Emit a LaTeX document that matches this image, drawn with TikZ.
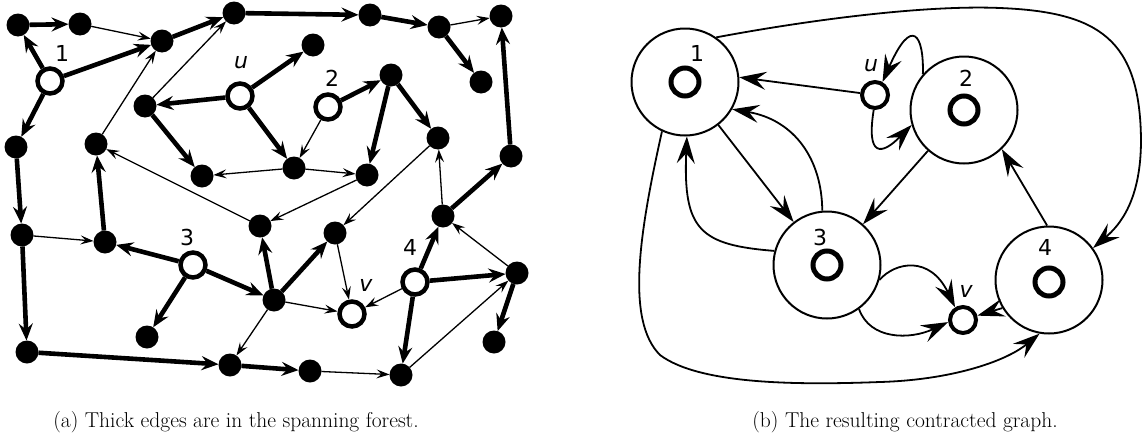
\documentclass[tikz,border=0pt]{standalone}
\usepackage{fontspec}
\newfontfamily\labfont{DejaVu Sans}
\usetikzlibrary{arrows.meta}
\begin{document}
\begin{tikzpicture}[x=1pt,y=-1pt,
  bn/.style={circle,fill=black,minimum size=23pt,inner sep=0pt,outer sep=0pt},
  wn/.style={circle,draw=black,fill=white,line width=4.5pt,minimum size=25pt,inner sep=0pt},
  thk/.style={line width=4.6pt,-{Stealth[length=17pt,width=14pt,inset=6pt]}},
  thn/.style={line width=1.3pt,-{Stealth[length=13pt,width=9pt,inset=5pt]}},
  big/.style={circle,draw=black,line width=2pt,minimum size=107pt,inner sep=0pt},
  ring/.style={circle,draw=black,line width=5pt,minimum size=28pt,inner sep=0pt},
  sm/.style={circle,draw=black,fill=white,line width=4pt,minimum size=26pt,inner sep=0pt},
  rar/.style={line width=1.8pt,-{Stealth[length=27pt,width=18pt,inset=10pt]}},
  lab/.style={font=\labfont\fontsize{22}{26}\selectfont,inner sep=0pt},
  ilab/.style={font=\labfont\itshape\fontsize{22}{26}\selectfont,inner sep=0pt},
  captext/.style={font=\fontsize{21.5}{26}\selectfont,anchor=base,inner sep=0pt}]
\useasboundingbox (0,0) rectangle (1146,442);

% ---------- left graph: nodes ----------
\node[bn] (a1) at (18,25) {};
\node[bn] (a2) at (80,24) {};
\node[bn] (a3) at (162,41) {};
\node[bn] (a4) at (234,13) {};
\node[bn] (a5) at (370,15) {};
\node[bn] (a6) at (439,27) {};
\node[bn] (a7) at (501,16) {};
\node[bn] (a8) at (481,82) {};
\node[bn] (a9) at (313,45) {};
\node[bn] (a10) at (391,75) {};
\node[bn] (a11) at (145,106) {};
\node[bn] (a12) at (16,147) {};
\node[bn] (a13) at (96,144) {};
\node[bn] (a14) at (202,176) {};
\node[bn] (a15) at (294,168) {};
\node[bn] (a16) at (367,175) {};
\node[bn] (a17) at (438,138) {};
\node[bn] (a18) at (511,156) {};
\node[bn] (a19) at (22,235) {};
\node[bn] (a20) at (105,242) {};
\node[bn] (a21) at (260,226) {};
\node[bn] (a22) at (274,300) {};
\node[bn] (a23) at (147,337) {};
\node[bn] (a24) at (27,352) {};
\node[bn] (a25) at (230,365) {};
\node[bn] (a26) at (335,233) {};
\node[bn] (a27) at (443,216) {};
\node[bn] (a28) at (517,273) {};
\node[bn] (a29) at (494,342) {};
\node[bn] (a30) at (310,371) {};
\node[bn] (a31) at (401,375) {};
\node[wn] (w1) at (50,81) {};
\node[wn] (wu) at (240,96) {};
\node[wn] (w2) at (328,107) {};
\node[wn] (w3) at (193,265) {};
\node[wn] (wv) at (352,314) {};
\node[wn] (w4) at (415,282) {};
\node[lab] (l1) at (62,53) {1};
\node[ilab] (lu) at (241,63) {u};
\node[lab] (l2) at (332,78) {2};
\node[lab] (l3) at (187,237) {3};
\node[lab] (l4) at (410,247) {4};
\node[ilab] (lv) at (366,285) {v};

% thick (forest) edges
\foreach \s/\t in {w1/a1,a1/a2,w1/a3,a3/a4,a4/a5,a5/a6,a6/a8,w1/a12,a12/a19,a19/a24,
  a20/a13,wu/a11,wu/a9,wu/a15,a11/a14,w2/a10,a10/a16,a10/a17,a27/a18,a18/a7,
  w4/a27,w4/a28,w4/a31,a28/a29,a25/a30,a24/a25,a22/a26,a22/a21,w3/a22,w3/a20,w3/a23}
  \draw[thk] (\s) -- (\t);
% thin edges
\foreach \s/\t in {a2/a3,a6/a7,a19/a20,a13/a3,a11/a4,a15/a14,w2/a15,a15/a16,a21/a13,
  a16/a21,a17/a26,a27/a17,a28/a27,a31/a28,a30/a31,a22/a25,a22/wv,a26/wv,w4/wv}
  \draw[thn] (\s) -- (\t);

% ---------- right graph ----------
\node[big] (C1) at (685,82) {};
\node[big] (C2) at (964,110) {};
\node[big] (C3) at (827,265) {};
\node[big] (C4) at (1049,280) {};
\node[ring] (r1) at (685,82) {};
\node[ring] (r2) at (964,110) {};
\node[ring] (r3) at (827,265) {};
\node[ring] (r4) at (1049,282) {};
\node[sm] (u) at (875,95) {};
\node[sm] (v) at (963,320) {};
\node[lab] (m1) at (697,53) {1};
\node[lab] (m2) at (966,78) {2};
\node[lab] (m3) at (820,237) {3};
\node[lab] (m4) at (1045,247) {4};
\node[ilab] (mu) at (871,66) {u};
\node[ilab] (mv) at (966,291) {v};

\draw[rar] (u) -- (C1.5);
\draw[rar] (C2.139) .. controls (924,35) and (912,15) .. (u.60);
\draw[rar] (u.-95) .. controls (866,158) and (882,155) .. (C2.196);
\draw[rar] (C1) -- (C3);
\draw[rar] (C3.95) .. controls (822,160) and (795,120) .. (C1.-30);
\draw[rar] (C3.165) .. controls (700,245) and (683,230) .. (C1.-88);
\draw[rar] (C2) -- (C3);
\draw[rar] (C4.92) -- (C2.-46);
\draw[rar] (C1.55) .. controls (820,18) and (930,5) .. (1000,8)
   .. controls (1100,12) and (1140,40) .. (1141,140)
   .. controls (1141,200) and (1120,225) .. (C4.36);
\draw[rar] (C1.-115) .. controls (640,230) and (625,320) .. (660,355)
   .. controls (700,385) and (800,385) .. (880,382)
   .. controls (950,380) and (1005,362) .. (C4.-100);
\draw[rar] (C3.-16) .. controls (895,262) and (930,255) .. (v.122);
\draw[rar] (C3.-54) .. controls (870,340) and (910,340) .. (v.188);
\draw[rar] (C4.211) -- (v);

% captions
\node[captext] (capa) at (236,427) {(a) Thick edges are in the spanning forest.};
\node[captext] (capb) at (905,427) {(b) The resulting contracted graph.};
\end{tikzpicture}
\end{document}
